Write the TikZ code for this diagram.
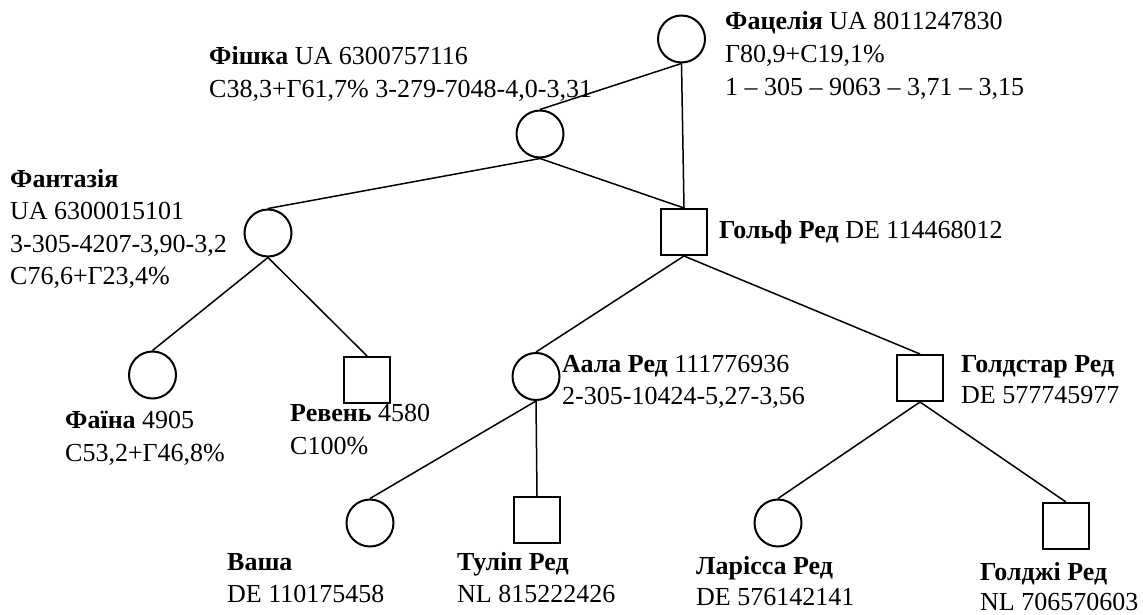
\documentclass[tikz,border=0pt]{standalone}
\usepackage{fontspec}
\setmainfont{Liberation Serif}
% multi-line label whose base is the baseline of its first line;
% #1 = line spacing, #2 = lines
\newcommand\labtext[2]{{\fontsize{26}{#1}\selectfont\begin{tabular}[t]{@{}l@{}}#2\end{tabular}}}
\begin{document}
\begin{tikzpicture}[x=1pt,y=-1pt,
  fem/.style={circle,draw,line width=2pt,minimum size=47pt,inner sep=0pt},
  masc/.style={rectangle,draw,line width=2pt,minimum size=46pt,inner sep=0pt},
  lab/.style={anchor=base west,inner sep=0pt,font=\fontsize{26}{30}\selectfont},
  link/.style={line width=1.5pt}]
\useasboundingbox (0,0) rectangle (1143,615);

% plants
\node[fem]  (fac)   at (681.5,39) {};
\node[fem]  (fish)  at (540,134) {};
\node[fem]  (fant)  at (268,233) {};
\node[masc] (golf)  at (684,232) {};
\node[fem]  (faina) at (152.5,375) {};
\node[masc] (reven) at (367,380) {};
\node[fem]  (aala)  at (536,376.5) {};
\node[masc] (gstar) at (920,378) {};
\node[fem]  (vasha) at (370,523) {};
\node[masc] (tulip) at (537,520) {};
\node[fem]  (lar)   at (778,523) {};
\node[masc] (gdzh)  at (1066,526) {};

% pedigree links
\draw[link] (fac.south)   -- (fish.north);
\draw[link] (fac.south)   -- (golf.north);
\draw[link] (fish.south)  -- (fant.north);
\draw[link] (fish.south)  -- (golf.north);
\draw[link] (fant.south)  -- (faina.north);
\draw[link] (fant.south)  -- (reven.north);
\draw[link] (golf.south)  -- (aala.north);
\draw[link] (golf.south)  -- (gstar.north);
\draw[link] (aala.south)  -- (vasha.north);
\draw[link] (aala.south)  -- (tulip.north);
\draw[link] (gstar.south) -- (lar.north);
\draw[link] (gstar.south) -- (gdzh.north);

% labels
\node[lab] (facL) at (725,30) {\labtext{33}{\textbf{Фацелія} UA 8011247830\\Г80,9+С19,1\%\\1 – 305 – 9063 – 3,71 – 3,15}};
\node[lab] (fishL) at (209,65) {\labtext{33}{\textbf{Фішка} UA 6300757116\\С38,3+Г61,7\% 3-279-7048-4,0-3,31}};
\node[lab] (golfL) at (719,238) {\textbf{Гольф Ред} DE 114468012};
\node[lab] (fantL) at (10,187) {\labtext{32.5}{\textbf{Фантазія}\\UA 6300015101\\3-305-4207-3,90-3,2\\С76,6+Г23,4\%}};
\node[lab] (aalaL) at (562,372) {\labtext{32}{\textbf{Аала Ред} 111776936\\2-305-10424-5,27-3,56}};
\node[lab] (gstarL) at (961,372) {\labtext{31}{\textbf{Голдстар Ред}\\DE 577745977}};
\node[lab] (fainaL) at (65,428) {\labtext{33}{\textbf{Фаїна} 4905\\С53,2+Г46,8\%}};
\node[lab] (revenL) at (290,421) {\labtext{33}{\textbf{Ревень} 4580\\С100\%}};
\node[lab] (vashaL) at (227,570) {\labtext{32}{\textbf{Ваша}\\DE 110175458}};
\node[lab] (tulipL) at (457,570) {\labtext{32}{\textbf{Туліп Ред}\\NL 815222426}};
\node[lab] (larL) at (696,574) {\labtext{31}{\textbf{Ларісса Ред}\\DE 576142141}};
\node[lab] (gdzhL) at (980,580) {\labtext{30}{\textbf{Голджі Ред}\\NL 706570603}};
\end{tikzpicture}
\end{document}
